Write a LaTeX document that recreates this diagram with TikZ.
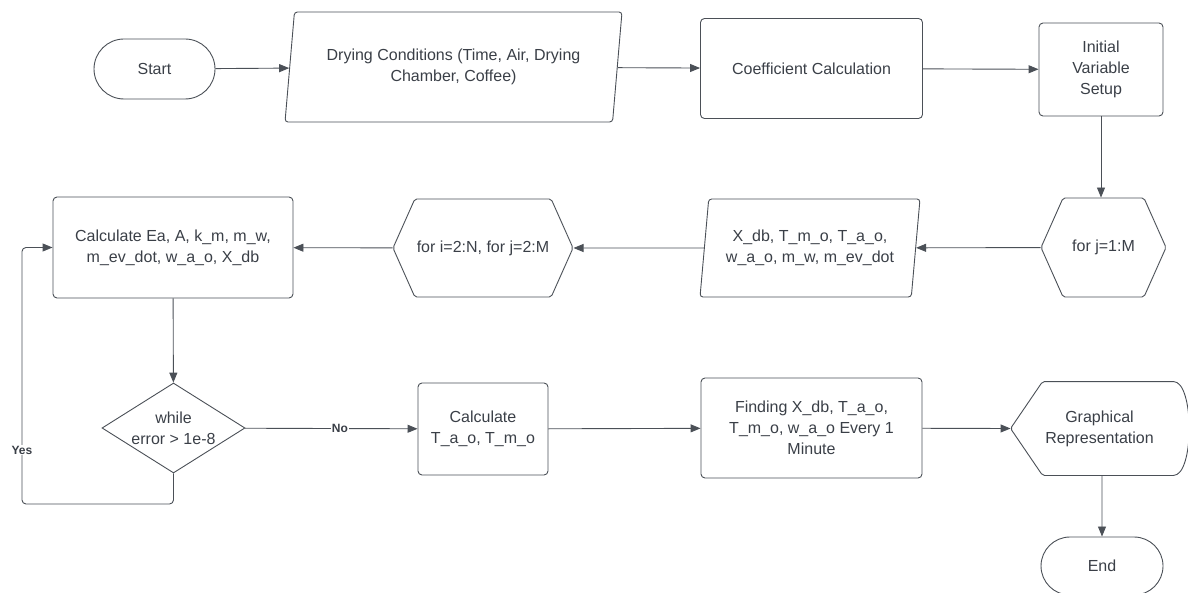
\documentclass[tikz,border=0pt]{standalone}
\usepackage{fontspec}
\setmainfont{Liberation Sans}
\usetikzlibrary{shapes.geometric,shapes.misc,shapes.symbols,arrows.meta}

\definecolor{linegray}{HTML}{4B5057}
\definecolor{textgray}{HTML}{3A3F47}

\tikzset{
  base/.style={draw=linegray, line width=0.9pt, text=textgray,
    font=\fontsize{16}{21}\selectfont, align=center, inner sep=1pt},
  terminal/.style={base, rounded rectangle, minimum width=123pt, minimum height=60pt},
  iobox/.style={base, trapezium, trapezium left angle=76, trapezium right angle=104,
    trapezium stretches body, rounded corners=3pt},
  process/.style={base, rectangle, rounded corners=4pt},
  loopbox/.style={base, signal, signal to=east and west, signal pointer angle=132,
    rounded corners=2pt},
  decision/.style={base, diamond, aspect=1.6, inner sep=0pt},
  flow/.style={draw=linegray, line width=0.9pt, -{Triangle[length=10pt,width=8pt]}},
  answer/.style={font=\fontsize{12}{14}\selectfont\bfseries, text=textgray,
    fill=white, inner sep=1pt}
}

\begin{document}
\begin{tikzpicture}[x=1pt, y=-1pt]
  \useasboundingbox (0,0) rectangle (1188,593);

  % top row
  \node[terminal] (start) at (154.5,69) {Start};
  \node[iobox, minimum width=337pt, minimum height=110pt] (cond) at (453.5,67)
    {Drying Conditions (Time, Air, Drying\\Chamber, Coffee)};
  \node[process, minimum width=222pt, minimum height=100pt] (coef) at (811.5,68.5)
    {Coefficient Calculation};
  \node[process, minimum width=124pt, minimum height=93pt] (init) at (1101,69.5)
    {Initial\\Variable\\Setup};

  % middle row
  \node[loopbox, minimum width=125pt, minimum height=99pt] (loopj) at (1103.5,247.5)
    {for j=1:M};
  \node[iobox, trapezium left angle=77, trapezium right angle=103,
    minimum width=220pt, minimum height=98pt] (outs) at (810,248)
    {X\_db, T\_m\_o, T\_a\_o,\\w\_a\_o, m\_w, m\_ev\_dot};
  \node[loopbox, minimum width=180pt, minimum height=98pt] (loopij) at (483,248)
    {for i=2:N, for j=2:M};
  \node[process, minimum width=240pt, minimum height=101pt] (calc) at (173,247.5)
    {Calculate Ea, A, k\_m, m\_w,\\m\_ev\_dot, w\_a\_o, X\_db};

  % bottom row
  \node[decision, minimum width=143pt, minimum height=90pt] (check) at (173.5,428)
    {while\\error > 1e-8};
  \node[process, minimum width=130pt, minimum height=92pt] (temps) at (483,429)
    {Calculate\\T\_a\_o, T\_m\_o};
  \node[process, minimum width=221pt, minimum height=100pt] (every) at (811.5,428)
    {Finding X\_db, T\_a\_o,\\T\_m\_o, w\_a\_o Every 1\\Minute};
  \node[base, draw=none, minimum width=177pt, minimum height=93pt] (graph) at (1099.5,428.5)
    {Graphical\\Representation};
  \draw[draw=linegray, line width=0.9pt, rounded corners=2pt]
    (graph.west) -- ([xshift=32pt]graph.north west) -- ([xshift=-17pt]graph.north east)
    .. controls ([xshift=6pt]graph.north east) and ([xshift=6pt]graph.south east) ..
    ([xshift=-17pt]graph.south east) -- ([xshift=32pt]graph.south west) -- cycle;
  \node[terminal, minimum width=124pt, minimum height=58pt] (stop) at (1102,566) {End};

  % connectors
  \draw[flow] (start) -- (cond);
  \draw[flow] (cond) -- (coef);
  \draw[flow] (coef) -- (init);
  \draw[flow] (init.south) -- (init.south|-loopj.north);
  \draw[flow] (loopj) -- (outs);
  \draw[flow] (outs) -- (loopij);
  \draw[flow] (loopij) -- (calc);
  \draw[flow] (calc) -- (check);
  \draw[flow] (check) -- node[answer, pos=0.55] (no) {No} (temps);
  \coordinate (yesturn) at (22,504);
  \draw[flow, rounded corners=4pt] (check.south) |- (yesturn) |- (calc.west);
  \node[answer] (yes) at (22,450) {Yes};
  \draw[flow] (temps) -- (every);
  \draw[flow] (every) -- (graph.west);
  \draw[flow] (graph.south-|stop.north) -- (stop);
\end{tikzpicture}
\end{document}
